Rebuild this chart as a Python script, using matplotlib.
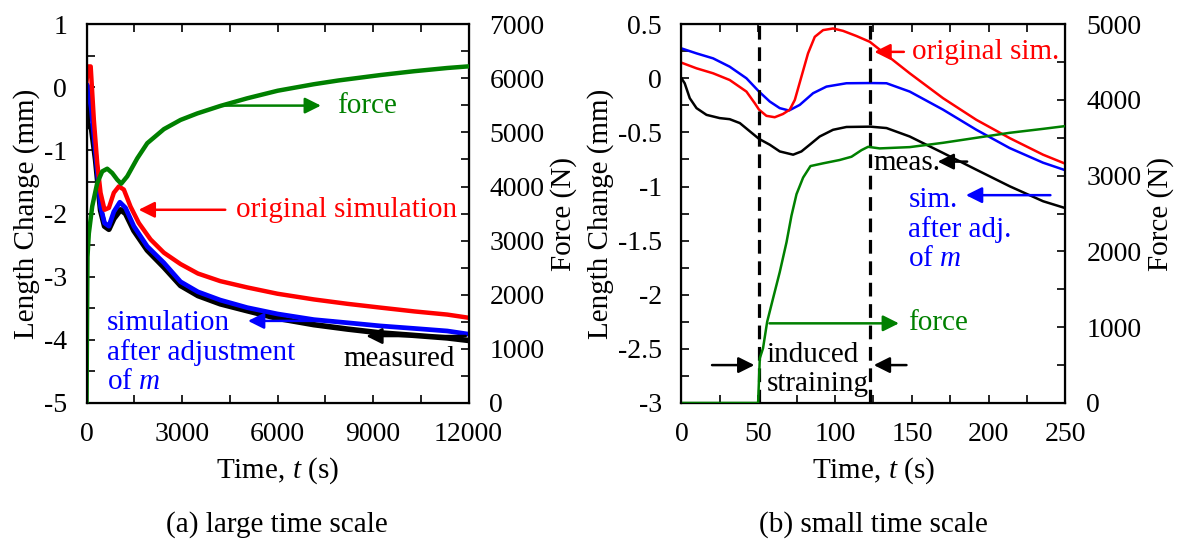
import numpy as np
import matplotlib.pyplot as plt
from matplotlib.ticker import MultipleLocator, FormatStrFormatter

plt.rcParams['font.family'] = 'Liberation Serif'
plt.rcParams['mathtext.fontset'] = 'custom'
plt.rcParams['mathtext.rm'] = 'Liberation Serif'
plt.rcParams['mathtext.it'] = 'Liberation Serif:italic'
plt.rcParams['axes.unicode_minus'] = False
plt.rcParams['font.size'] = 21

# (a) large time scale  -- time in s, length change in mm, force in N
t_red_a = [0, 50, 130, 230, 335, 440, 565, 702, 858, 1015, 1172, 1382, 1643, 2011, 2430, 2953,
           3500, 4200, 5048, 6000, 7141, 8200, 9236, 10300, 11332, 12000]
y_red_a = [0.1, 0.33, 0.33, -0.52, -1.2, -1.67, -1.94, -1.91, -1.67, -1.57, -1.62, -1.89, -2.15,
           -2.41, -2.62, -2.80, -2.95, -3.07, -3.17, -3.27, -3.36, -3.43, -3.49, -3.55, -3.60, -3.65]
t_blue_a = [0, 20, 147, 283, 440, 565, 702, 858, 1046, 1225, 1486, 1907, 2430, 2953, 3500, 4200,
            5048, 6000, 7141, 8200, 9236, 10300, 11332, 12000]
y_blue_a = [0.0, 0.04, -0.33, -1.04, -1.89, -2.15, -2.20, -1.97, -1.82, -1.91, -2.20, -2.52, -2.78,
            -3.08, -3.24, -3.37, -3.49, -3.59, -3.68, -3.73, -3.78, -3.82, -3.86, -3.91]
t_meas_a = [0, 41, 147, 283, 440, 565, 702, 858, 1068, 1225, 1486, 1907, 2430, 2953, 3500, 4200,
            5048, 6000, 7141, 8200, 9236, 10300, 11332, 12000]
y_meas_a = [0.0, -0.62, -0.62, -1.15, -1.95, -2.2, -2.25, -2.08, -1.94, -2.0, -2.27, -2.58, -2.85,
            -3.14, -3.30, -3.43, -3.54, -3.66, -3.76, -3.83, -3.89, -3.93, -3.97, -4.01]
t_force_a = [0, 15, 30, 72, 179, 336, 493, 650, 807, 964, 1090, 1278, 1593, 1907, 2430, 2953, 3477,
             4210, 5048, 6005, 7141, 7920, 9236, 10284, 11332, 12000]
f_force_a = [0, 1500, 2700, 3131, 3634, 4065, 4279, 4329, 4249, 4126, 4052, 4187, 4520, 4800, 5060,
             5230, 5350, 5490, 5630, 5770, 5890, 5960, 6060, 6130, 6190, 6220]

# (b) small time scale
t_red_b = [0, 9.8, 20.6, 31.4, 42.3, 47.7, 50.5, 55.3, 60.7, 66.1, 70.5, 73.8, 78.1, 82.4, 86.8,
           92.2, 98.7, 105.2, 114, 122.6, 148.6, 170.3, 192, 213.7, 235.4, 250]
y_red_b = [0.144, 0.092, 0.046, -0.016, -0.123, -0.23, -0.29, -0.347, -0.36, -0.33, -0.29, -0.2,
           0.015, 0.23, 0.383, 0.445, 0.46, 0.438, 0.39, 0.337, 0.046, -0.184, -0.384, -0.553,
           -0.706, -0.79]
t_blue_b = [0, 9.8, 20.6, 31.4, 42.3, 50.5, 57.5, 64, 70, 77, 85.7, 94.4, 107.4, 123, 133.5, 148.6,
            170.3, 192, 213.7, 235.4, 250]
y_blue_b = [0.276, 0.23, 0.184, 0.107, 0.0, -0.123, -0.215, -0.276, -0.298, -0.246, -0.138, -0.077,
            -0.046, -0.044, -0.046, -0.123, -0.29, -0.476, -0.645, -0.78, -0.85]
t_meas_b = [0, 2.1, 5.4, 9.8, 16.3, 24.9, 31.4, 38, 44.5, 50.5, 57.5, 64, 72.7, 78.1, 83.5, 90, 98.7,
            107.4, 123, 133.5, 148.6, 170.3, 192, 213.7, 235.4, 250]
y_meas_b = [0.0, -0.046, -0.184, -0.276, -0.338, -0.368, -0.378, -0.414, -0.49, -0.56, -0.614,
            -0.676, -0.706, -0.676, -0.614, -0.538, -0.476, -0.45, -0.447, -0.46, -0.538, -0.69,
            -0.845, -0.998, -1.136, -1.2]
t_force_b = [0, 49.9, 51, 53.1, 55.8, 59.6, 64, 68.4, 71.6, 74.9, 79.2, 84, 92.2, 103, 110.7, 117.2,
             121.5, 129, 148.6, 170.3, 192, 213.7, 235.4, 250]
f_force_b = [0, 0, 590, 722, 1072, 1378, 1728, 2122, 2470, 2756, 2975, 3127, 3163, 3207, 3250, 3337,
             3381, 3360, 3377, 3434, 3500, 3566, 3618, 3655]
t_window = [50.6, 123]

fig = plt.figure(figsize=(11.79, 5.49), dpi=100)
axa = fig.add_axes([0.0734, 0.266, 0.324, 0.690])
axb = fig.add_axes([0.578, 0.266, 0.3257, 0.690])


def style(ax, ax2):
    ax.tick_params(axis='x', direction='in', top=True, which='both', length=6, width=1.2,
                   pad=14, labelsize=20)
    ax.tick_params(axis='y', direction='in', which='both', length=6, width=1.2,
                   pad=14, labelsize=20)
    ax2.tick_params(direction='in', which='both', length=6, width=1.2, pad=15, labelsize=20)
    for s in ax.spines.values():
        s.set_linewidth(1.6)
    ax.set_xlabel('Time, $t$ (s)', labelpad=6)
    ax.set_ylabel('Length Change (mm)', labelpad=3)
    ax2.set_ylabel('Force (N)', labelpad=4)


# panel (a)
axa2 = axa.twinx()
axa.plot(t_meas_a, y_meas_a, color='black', lw=4)
axa.plot(t_blue_a, y_blue_a, color='blue', lw=3.4)
axa.plot(t_red_a, y_red_a, color='red', lw=3.2)
axa2.plot(t_force_a, f_force_a, color='green', lw=3.2)
axa.set_xlim(0, 12000)
axa.set_ylim(-5, 1)
axa2.set_ylim(0, 7000)
axa.xaxis.set_major_locator(MultipleLocator(3000))
axa.xaxis.set_minor_locator(MultipleLocator(1500))
axa.yaxis.set_major_locator(MultipleLocator(1))
axa.yaxis.set_minor_locator(MultipleLocator(0.5))
axa2.yaxis.set_major_locator(MultipleLocator(1000))
axa2.yaxis.set_minor_locator(MultipleLocator(500))
style(axa, axa2)

arr = dict(arrowstyle='-|>', lw=1.8, mutation_scale=24)
axa.annotate('', xy=(7450, -0.29), xytext=(4100, -0.29), arrowprops=dict(arr, color='green'))
axa.text(7870, -0.29, 'force', color='green', va='center', ha='left')
axa.annotate('', xy=(1550, -1.94), xytext=(4445, -1.94), arrowprops=dict(arr, color='red'))
axa.text(4700, -1.94, 'original simulation', color='red', va='center', ha='left')
axa.annotate('', xy=(4985, -3.70), xytext=(7840, -3.70), arrowprops=dict(arr, color='blue'))
axa.text(642, -4.20, 'simulation\nafter adjustment\nof $m$', color='blue', va='center',
         ha='left', linespacing=1.15)
axa.annotate('', xy=(8700, -3.94), xytext=(12000, -3.94), arrowprops=dict(arr, color='black'))
axa.text(8060, -4.31, 'measured', color='black', va='center', ha='left')

# panel (b)
axb2 = axb.twinx()
axb.plot(t_meas_b, y_meas_b, color='black', lw=1.8)
axb.plot(t_blue_b, y_blue_b, color='blue', lw=1.8)
axb.plot(t_red_b, y_red_b, color='red', lw=1.8)
axb2.plot(t_force_b, f_force_b, color='green', lw=1.8)
for tw in t_window:
    axb.axvline(tw, color='black', lw=2.3, ls=(0, (4.3, 2.4)))
axb.set_xlim(0, 250)
axb.set_ylim(-3, 0.5)
axb2.set_ylim(0, 5000)
axb.xaxis.set_major_locator(MultipleLocator(50))
axb.xaxis.set_minor_locator(MultipleLocator(25))
axb.yaxis.set_major_locator(MultipleLocator(0.5))
axb.yaxis.set_minor_locator(MultipleLocator(0.25))
axb.yaxis.set_major_formatter(FormatStrFormatter('%g'))
axb2.yaxis.set_major_locator(MultipleLocator(1000))
axb2.yaxis.set_minor_locator(MultipleLocator(500))
style(axb, axb2)

axb.annotate('', xy=(123.8, 0.244), xytext=(146.6, 0.244), arrowprops=dict(arr, color='red'))
axb.text(149.9, 0.244, 'original sim.', color='red', va='center', ha='left')
axb.annotate('', xy=(165, -0.77), xytext=(187.8, -0.77), arrowprops=dict(arr, color='black'))
axb.text(124.9, -0.78, 'meas.', color='black', va='center', ha='left')
axb.annotate('', xy=(183.4, -1.08), xytext=(242, -1.08), arrowprops=dict(arr, color='blue'))
axb.text(147.7, -1.40, 'sim.\nafter adj.\nof $m$', color='blue', va='center', ha='left',
         linespacing=1.15)
axb2.annotate('', xy=(143.4, 1051), xytext=(55.5, 1051), arrowprops=dict(arr, color='green'))
axb2.text(147.7, 1051, 'force', color='green', va='center', ha='left')
axb.annotate('', xy=(49.3, -2.65), xytext=(18.1, -2.65), arrowprops=dict(arr, color='black'))
axb.annotate('', xy=(123.4, -2.65), xytext=(148.3, -2.65), arrowprops=dict(arr, color='black'))
axb.text(55.5, -2.69, 'induced\nstraining', color='black', va='center', ha='left',
         linespacing=1.15)

fig.text(0.235, 0.045, '(a) large time scale', ha='center', va='center', fontsize=21)
fig.text(0.741, 0.045, '(b) small time scale', ha='center', va='center', fontsize=21)

fig.savefig('out.png', dpi=100)
